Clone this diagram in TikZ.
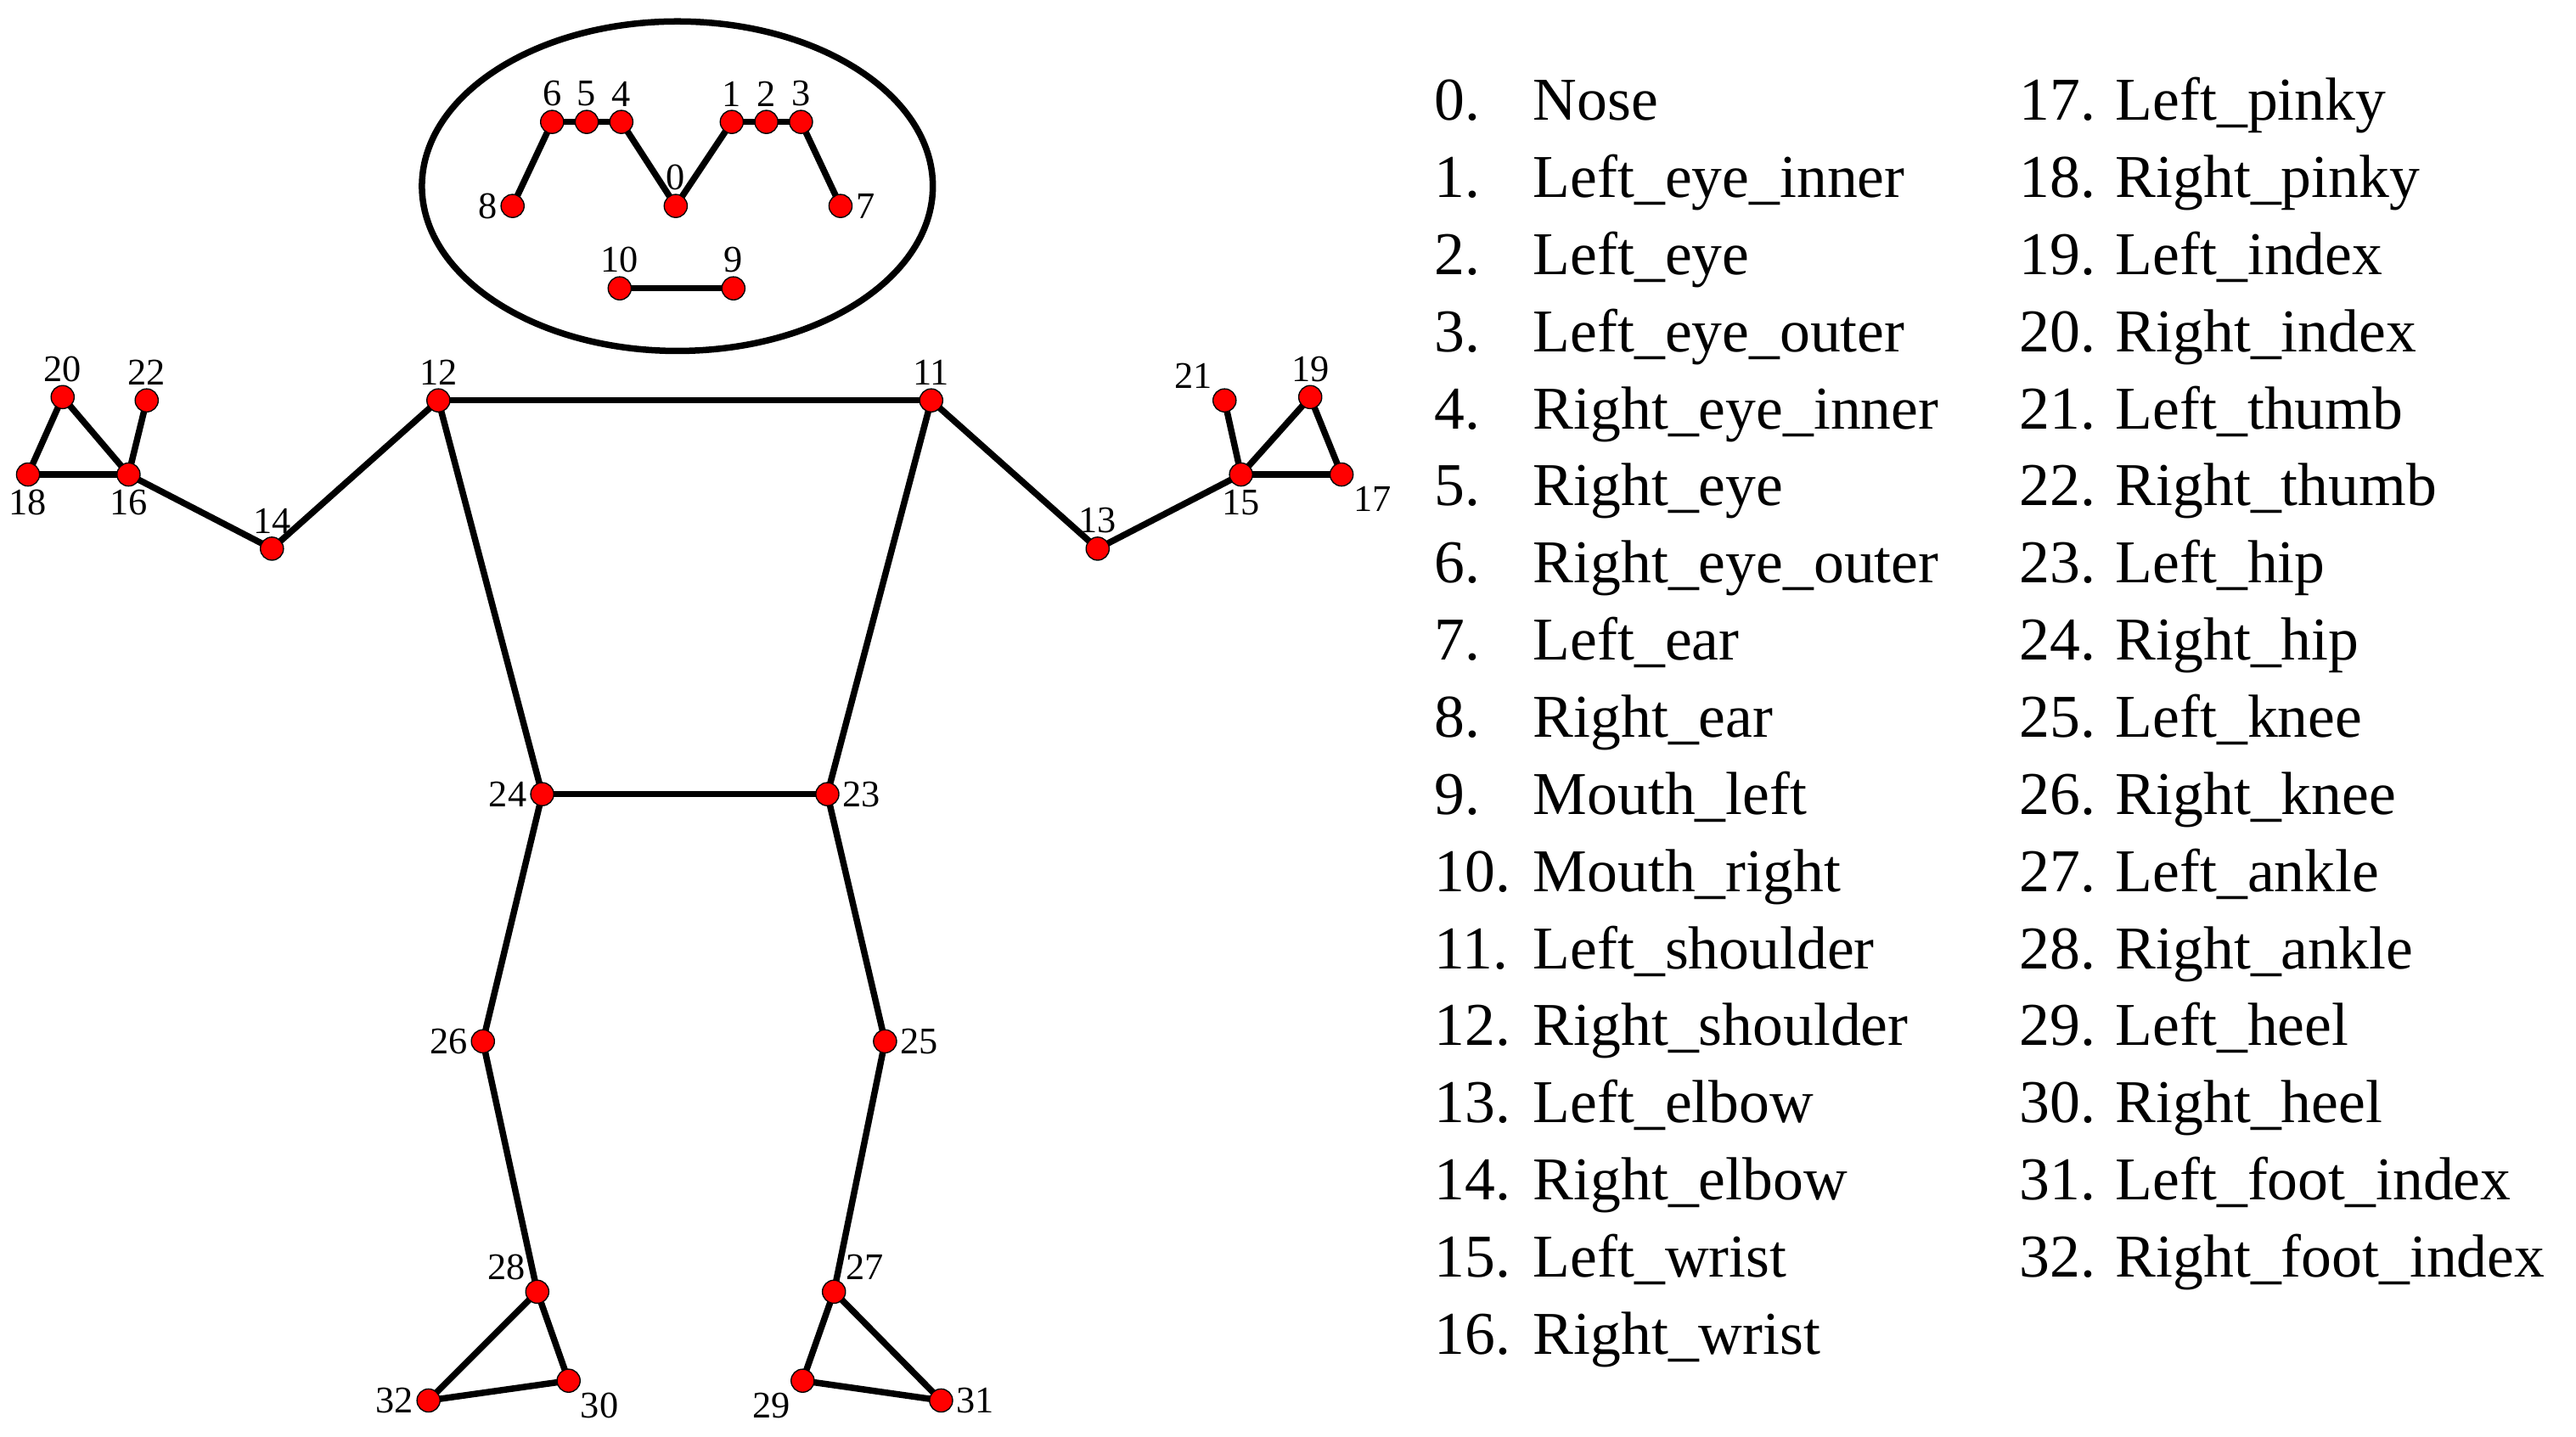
\documentclass[tikz,border=0pt]{standalone}
\usepackage{fontspec}
\setmainfont{Liberation Serif}
\tikzset{
	joint/.style={circle,draw=black,fill=red,inner sep=0pt,minimum size=0.28cm,thin},
	bone/.style={line width=2.2pt,black},
	num/.style={font=\fontsize{13}{15}\selectfont,inner sep=1pt},
	item/.style={font=\fontsize{21}{25}\selectfont,anchor=base west,inner sep=0pt}
}
\begin{document}
\begin{tikzpicture}[x=0.02cm,y=-0.02cm]
	\useasboundingbox (0,0) rectangle (1563,872);
	\draw[line width=2.2pt] (411,113) ellipse [x radius=155,y radius=100];
	% joints: name/x/y/label position
	\foreach \n/\x/\y/\p in {0/410/125/above,1/444/74/above,2/465/74/above,3/486/74/above,
		4/377/74/above,5/356/74/above,6/335/74/above,7/510/125/right,8/311/125/left,
		9/445/175/above,10/376/175/above,11/565/243/above,12/266/243/above,
		13/666/333/above,14/165/333/above,15/753/288/below,16/78/288/below,
		17/814/288/below right,18/17/288/below,19/795/241/above,20/38/241/above,
		21/743/243/above left,22/89/243/above,23/502/482/right,24/329/482/left,
		25/537/632/right,26/293/632/left,27/506/784/above right,28/326/784/above left,
		29/487/838/below left,30/345/838/below right,31/571/850/right,32/260/850/left}
		\coordinate (p\n) at (\x,\y);
	% skeleton
	\foreach \a/\b in {8/6,6/5,5/4,4/0,0/1,1/2,2/3,3/7,10/9,12/11,12/14,14/16,16/18,18/20,20/16,
		16/22,11/13,13/15,15/17,17/19,19/15,15/21,12/24,11/23,24/23,24/26,26/28,28/32,
		32/30,30/28,23/25,25/27,27/29,29/31,31/27}
		\draw[bone] (p\a) -- (p\b);
	\foreach \n/\x/\y/\p in {0/410/125/above,1/444/74/above,2/465/74/above,3/486/74/above,
		4/377/74/above,5/356/74/above,6/335/74/above,7/510/125/right,8/311/125/left,
		9/445/175/above,10/376/175/above,11/565/243/above,12/266/243/above,
		13/666/333/above,14/165/333/above,15/753/288/below,16/78/288/below,
		17/814/288/below right,18/17/288/below,19/795/241/above,20/38/241/above,
		21/743/243/above left,22/89/243/above,23/502/482/right,24/329/482/left,
		25/537/632/right,26/293/632/left,27/506/784/above right,28/326/784/above left,
		29/487/838/below left,30/345/838/below right,31/571/850/right,32/260/850/left}
		\node[joint,label={[num,label distance=0pt]\p:\n}] (j\n) at (p\n) {};
	% legend
	\foreach \n/\t [count=\i from 0] in {0/Nose,1/Left\_eye\_inner,2/Left\_eye,3/Left\_eye\_outer,
		4/Right\_eye\_inner,5/Right\_eye,6/Right\_eye\_outer,7/Left\_ear,8/Right\_ear,
		9/Mouth\_left,10/Mouth\_right,11/Left\_shoulder,12/Right\_shoulder,13/Left\_elbow,
		14/Right\_elbow,15/Left\_wrist,16/Right\_wrist}{
		\node[item] (n\n) at (870,73+46.8*\i) {\n.};
		\node[item] (t\n) at (930,73+46.8*\i) {\t};
	}
	\foreach \n/\t [count=\i from 0] in {17/Left\_pinky,18/Right\_pinky,19/Left\_index,
		20/Right\_index,21/Left\_thumb,22/Right\_thumb,23/Left\_hip,24/Right\_hip,
		25/Left\_knee,26/Right\_knee,27/Left\_ankle,28/Right\_ankle,29/Left\_heel,
		30/Right\_heel,31/Left\_foot\_index,32/Right\_foot\_index}
		\node[item] (t\n) at (1225,73+46.8*\i) {\n. \t};
\end{tikzpicture}
\end{document}
